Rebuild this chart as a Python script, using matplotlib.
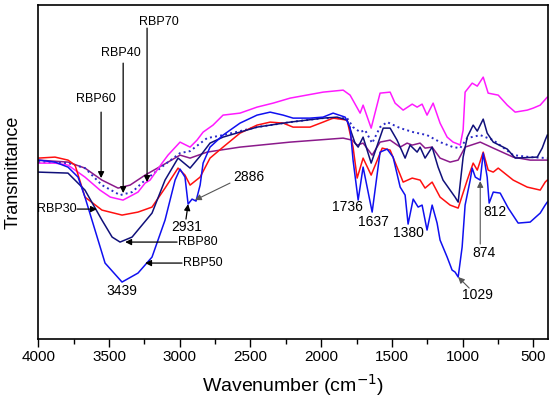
import matplotlib
matplotlib.use("Agg")
import matplotlib.pyplot as plt
from matplotlib.ticker import MultipleLocator

plt.rcParams['font.family'] = ['Liberation Sans', 'DejaVu Sans']

# FTIR spectra: wavenumber (cm-1) and transmittance (arb. units)
wn_70 = [4000, 3882, 3790, 3670, 3564, 3491, 3401, 3295, 3245, 3210, 3125, 3083, 2998, 2927,
         2878, 2835, 2765, 2694, 2574, 2454, 2340, 2220, 1987, 1845, 1796, 1725, 1704, 1647,
         1584, 1513, 1478, 1421, 1357, 1322, 1287, 1252, 1209, 1160, 1110, 1068, 1032, 1018,
         997, 983, 933, 897, 855, 820, 749, 685, 629, 544, 502, 452, 402]
t_70 = [177, 177, 175, 163, 150, 143, 140, 148, 157, 160, 177, 185, 198, 193,
        200, 208, 215, 225, 227, 233, 237, 242, 248, 250, 245, 227, 235, 212,
        247, 248, 237, 230, 236, 233, 236, 225, 237, 217, 203, 198, 196, 195,
        210, 248, 257, 254, 263, 247, 245, 235, 228, 230, 232, 235, 243]

wn_60 = [4000, 3790, 3670, 3550, 3436, 3351, 3245, 3083, 2998, 2927, 2807, 2574, 2220, 1845,
         1782, 1746, 1704, 1640, 1584, 1513, 1442, 1393, 1357, 1301, 1266, 1216, 1160, 1089,
         1032, 983, 876, 784, 643, 523, 402]
t_60 = [180, 178, 172, 160, 152, 155, 165, 178, 185, 182, 188, 193, 198, 202,
        200, 195, 197, 185, 198, 200, 193, 197, 195, 197, 192, 193, 182, 178,
        180, 193, 198, 192, 183, 180, 180]

wn_40 = [4000, 3790, 3670, 3550, 3422, 3337, 3245, 3083, 2998, 2927, 2807, 2694, 2454, 2220,
         1987, 1817, 1775, 1725, 1690, 1640, 1584, 1534, 1442, 1350, 1252, 1160, 1068, 1018,
         968, 876, 784, 643, 523, 402]
t_40 = [178, 177, 172, 155, 145, 148, 160, 178, 187, 189, 202, 205, 213, 218,
        222, 222, 213, 208, 210, 197, 213, 218, 212, 208, 205, 198, 193, 192,
        202, 205, 200, 185, 183, 182]

wn_30 = [4000, 3882, 3790, 3740, 3670, 3550, 3408, 3295, 3196, 3104, 3012, 2963, 2927, 2856,
         2786, 2694, 2574, 2454, 2361, 2269, 2199, 2079, 1987, 1916, 1817, 1775, 1746, 1704,
         1647, 1569, 1513, 1464, 1421, 1357, 1301, 1266, 1216, 1160, 1089, 1032, 968, 926,
         897, 855, 820, 784, 749, 643, 544, 452, 417, 402]
t_30 = [182, 183, 180, 175, 143, 130, 125, 128, 133, 152, 172, 165, 155, 163,
        182, 193, 207, 215, 218, 217, 213, 213, 218, 222, 220, 193, 162, 182,
        165, 192, 190, 173, 158, 162, 160, 152, 158, 143, 135, 132, 160, 177,
        170, 188, 170, 168, 172, 160, 153, 150, 158, 160]

wn_80 = [4000, 3790, 3670, 3550, 3478, 3422, 3337, 3196, 3104, 3012, 2927, 2856, 2786, 2694,
         2454, 2220, 1987, 1888, 1817, 1761, 1739, 1704, 1647, 1562, 1513, 1464, 1407, 1372,
         1322, 1301, 1266, 1216, 1174, 1139, 1089, 1054, 1032, 997, 968, 926, 897, 855,
         827, 784, 685, 629, 473, 438, 417, 402]
t_80 = [168, 167, 150, 120, 103, 98, 103, 127, 160, 182, 172, 184, 197, 203,
        213, 218, 222, 223, 220, 197, 193, 203, 177, 212, 212, 200, 182, 195,
        188, 193, 182, 193, 173, 160, 150, 143, 138, 183, 203, 215, 209, 221,
        207, 198, 191, 182, 183, 192, 200, 205]

wn_50 = [4000, 3882, 3790, 3719, 3670, 3599, 3528, 3408, 3295, 3196, 3104, 3033, 2998, 2963,
         2941, 2913, 2885, 2856, 2835, 2786, 2694, 2574, 2454, 2361, 2269, 2199, 2079, 1987,
         1916, 1831, 1796, 1775, 1739, 1704, 1640, 1584, 1534, 1492, 1442, 1407, 1386, 1350,
         1315, 1287, 1252, 1216, 1181, 1160, 1110, 1075, 1054, 1032, 1004, 983, 947, 933,
         911, 876, 855, 827, 813, 784, 735, 678, 608, 523, 452, 417, 402]
t_50 = [180, 178, 173, 163, 143, 110, 77, 58, 67, 83, 120, 160, 171, 163,
        136, 141, 139, 155, 177, 193, 205, 217, 225, 228, 225, 222, 222, 223,
        227, 223, 213, 180, 140, 173, 128, 188, 191, 183, 153, 145, 116, 141,
        133, 135, 110, 135, 117, 100, 83, 70, 68, 63, 93, 135, 160, 172,
        163, 160, 187, 163, 137, 148, 147, 132, 117, 118, 127, 135, 138]

series = [
    (wn_60, t_60, '#8b1a8b', '-'),
    (wn_40, t_40, '#2a2ac8', ':'),
    (wn_70, t_70, '#ff1aff', '-'),
    (wn_30, t_30, '#ff1010', '-'),
    (wn_80, t_80, '#10107a', '-'),
    (wn_50, t_50, '#1010f0', '-'),
]

fig = plt.figure(figsize=(5.5, 3.97), dpi=100)
ax = fig.add_axes([0.0696, 0.146, 0.926, 0.841])

for wn, t, c, ls in series:
    lw = 1.4 if ls == ':' else 1.1
    ax.plot(wn, t, color=c, ls=ls, lw=lw)

ax.set_xlim(4000, 400)
ax.set_ylim(1, 335)
ax.set_yticks([])
ax.xaxis.set_major_locator(MultipleLocator(500))
ax.xaxis.set_minor_locator(MultipleLocator(250))
ax.tick_params(axis='x', which='major', direction='out', length=6, width=1, labelsize=11, pad=2)
ax.tick_params(axis='x', which='minor', direction='out', length=3.5, width=1)
for s in ax.spines.values():
    s.set_linewidth(1.2)

ax.set_xlabel('Wavenumber (cm$^{-1}$)', fontsize=14, labelpad=6)
ax.set_ylabel('Transmittance', fontsize=13)
ax.yaxis.set_label_coords(-0.033, 0.5)

arr = dict(arrowstyle='-|>', color='k', lw=0.9, mutation_scale=9, shrinkA=0, shrinkB=0)
arr_g = dict(arrowstyle='-|>', color='#555555', lw=0.8, mutation_scale=9, shrinkA=0, shrinkB=0)

# sample labels
ax.annotate('', xy=(3556, 162), xytext=(3556, 228), arrowprops=arr)
ax.text(3591, 241, 'RBP60', fontsize=9, ha='center', va='center')
ax.annotate('', xy=(3400, 147), xytext=(3400, 277), arrowprops=arr)
ax.text(3414, 287, 'RBP40', fontsize=9, ha='center', va='center')
ax.annotate('', xy=(3231, 158), xytext=(3231, 312), arrowprops=arr)
ax.text(3146, 318, 'RBP70', fontsize=9, ha='center', va='center')
ax.annotate('', xy=(3585, 131), xytext=(3726, 131), arrowprops=arr)
ax.text(3730, 131, 'RBP30', fontsize=9, ha='right', va='center')
ax.annotate('', xy=(3386, 98), xytext=(3019, 98), arrowprops=arr)
ax.text(3015, 98, 'RBP80', fontsize=9, ha='left', va='center')
ax.annotate('', xy=(3245, 77), xytext=(2984, 77), arrowprops=arr)
ax.text(2980, 77, 'RBP50', fontsize=9, ha='left', va='center')

# peak labels
ax.text(3408, 49, '3439', fontsize=10, ha='center', va='center')
ax.annotate('', xy=(2941, 136), xytext=(2956, 121), arrowprops=arr)
ax.text(2949, 113, '2931', fontsize=10, ha='center', va='center')
ax.annotate('', xy=(2892, 140), xytext=(2645, 157), arrowprops=arr_g)
ax.text(2510, 163, '2886', fontsize=10, ha='center', va='center')
ax.text(1817, 133, '1736', fontsize=10, ha='center', va='center')
ax.text(1633, 118, '1637', fontsize=10, ha='center', va='center')
ax.text(1386, 107, '1380', fontsize=10, ha='center', va='center')
ax.text(771, 128, '812', fontsize=10, ha='center', va='center')
ax.annotate('', xy=(876, 159), xytext=(876, 96), arrowprops=arr_g)
ax.text(848, 87, '874', fontsize=10, ha='center', va='center')
ax.annotate('', xy=(1032, 63), xytext=(954, 52), arrowprops=arr_g)
ax.text(897, 45, '1029', fontsize=10, ha='center', va='center')

fig.savefig('out.png', dpi=100)
